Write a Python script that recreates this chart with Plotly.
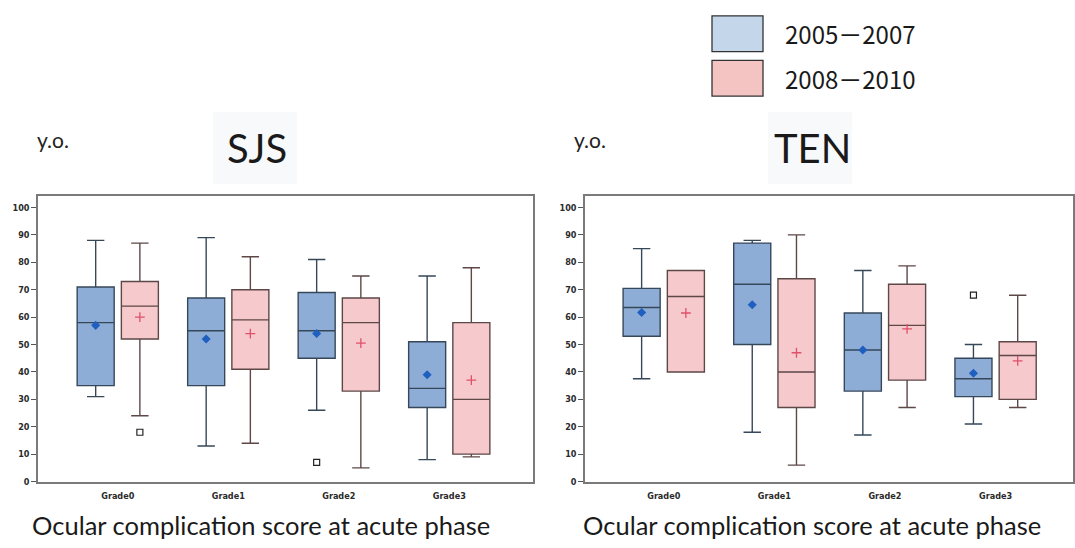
import plotly.graph_objects as go
import numpy as np

# Age (years) by ocular complication grade, two study periods
grades = ["Grade0", "Grade1", "Grade2", "Grade3"]
periods = ["2005－2007", "2008－2010"]

# SJS five-number summaries + means
sjs_a_low = [31, 13, 26, 8]
sjs_a_q1 = [35, 35, 45, 27]
sjs_a_med = [58, 55, 55, 34]
sjs_a_q3 = [71, 67, 69, 51]
sjs_a_high = [88, 89, 81, 75]
sjs_a_mean = [57, 52, 54, 39]
sjs_a_out_grade = [2]
sjs_a_out_val = [7]

sjs_b_low = [24, 14, 5, 9]
sjs_b_q1 = [52, 41, 33, 10]
sjs_b_med = [64, 59, 58, 30]
sjs_b_q3 = [73, 70, 67, 58]
sjs_b_high = [87, 82, 75, 78]
sjs_b_mean = [60, 54, 50.5, 37]
sjs_b_out_grade = [0]
sjs_b_out_val = [18]

# TEN five-number summaries + means
ten_a_low = [37.5, 18, 17, 21]
ten_a_q1 = [53, 50, 33, 31]
ten_a_med = [63.5, 72, 48, 37.5]
ten_a_q3 = [70.5, 87, 61.5, 45]
ten_a_high = [85, 88, 77, 50]
ten_a_mean = [61.7, 64.5, 48, 39.5]
ten_a_out_grade = [3]
ten_a_out_val = [68]

ten_b_low = [40, 6, 27, 27]
ten_b_q1 = [40, 27, 37, 30]
ten_b_med = [67.5, 40, 57, 46]
ten_b_q3 = [77, 74, 72, 51]
ten_b_high = [77, 90, 78.7, 68]
ten_b_mean = [61.5, 47, 55.7, 44]
ten_b_out_grade = []
ten_b_out_val = []

y_ticks = list(range(0, 101, 10))

BLUE_FILL = "#8eadd6"
BLUE_LINE = "#36475a"
BLUE_MEAN = "#1f5fbf"
PINK_FILL = "#f6c9cc"
PINK_LINE = "#5e4747"
PINK_MEAN = "#e0506a"

SHIFT = 0.2      # half the distance between paired boxes
BOX_W = 0.335
idx = np.arange(len(grades))

fig = go.Figure()


def add_panel(xa, ya, series):
    for k, (low, q1, med, q3, high, mean, og, ov) in enumerate(series):
        pos = idx + (-SHIFT if k == 0 else SHIFT)
        fill = BLUE_FILL if k == 0 else PINK_FILL
        line = BLUE_LINE if k == 0 else PINK_LINE
        fig.add_trace(go.Box(
            x=pos, q1=q1, median=med, q3=q3,
            lowerfence=low, upperfence=high,
            width=BOX_W, whiskerwidth=0.47,
            fillcolor=fill, line=dict(color=line, width=1.4),
            boxpoints=False, name=periods[k], showlegend=False,
            xaxis=xa, yaxis=ya,
        ))
        if k == 0:
            mk = dict(symbol="diamond", size=7, color=BLUE_MEAN)
        else:
            mk = dict(symbol="cross-thin", size=7,
                      line=dict(color=PINK_MEAN, width=1.3))
        fig.add_trace(go.Scatter(
            x=pos, y=mean, mode="markers", marker=mk,
            showlegend=False, xaxis=xa, yaxis=ya, hoverinfo="y",
        ))
        if len(og):
            fig.add_trace(go.Scatter(
                x=np.array(og) + (-SHIFT if k == 0 else SHIFT), y=ov,
                mode="markers",
                marker=dict(symbol="square-open", size=6,
                            line=dict(color="#222", width=1.2), color="#222"),
                showlegend=False, xaxis=xa, yaxis=ya,
            ))


add_panel("x", "y", [
    (sjs_a_low, sjs_a_q1, sjs_a_med, sjs_a_q3, sjs_a_high, sjs_a_mean,
     sjs_a_out_grade, sjs_a_out_val),
    (sjs_b_low, sjs_b_q1, sjs_b_med, sjs_b_q3, sjs_b_high, sjs_b_mean,
     sjs_b_out_grade, sjs_b_out_val),
])
add_panel("x2", "y2", [
    (ten_a_low, ten_a_q1, ten_a_med, ten_a_q3, ten_a_high, ten_a_mean,
     ten_a_out_grade, ten_a_out_val),
    (ten_b_low, ten_b_q1, ten_b_med, ten_b_q3, ten_b_high, ten_b_mean,
     ten_b_out_grade, ten_b_out_val),
])

W, H = 1075, 548
tick_font = dict(family="DejaVu Sans Condensed", size=9, color="#2a2a2a",
                 weight="bold")
frame = dict(showline=True, linecolor="#7a7a7a", linewidth=1.5, mirror=True,
             showgrid=False, zeroline=False)

ydom = [1 - 486 / H, 1 - 197.5 / H]
xaxis_common = dict(tickmode="array", tickvals=list(idx), ticktext=grades,
                    ticks="", tickfont=tick_font, ticklabelstandoff=5,
                    fixedrange=True, **frame)
yaxis_common = dict(range=[0, 104.3], tickmode="array", tickvals=y_ticks,
                    ticks="outside", ticklen=5, tickcolor="#555",
                    tickfont=tick_font, domain=ydom, **frame)

fig.update_layout(
    width=W, height=H,
    margin=dict(l=0, r=0, t=0, b=0),
    paper_bgcolor="white", plot_bgcolor="white",
    showlegend=False,
    xaxis=dict(domain=[38 / W, 533 / W], range=[-0.722, 3.758], **xaxis_common),
    yaxis=dict(anchor="x", **yaxis_common),
    xaxis2=dict(domain=[585 / W, 1073 / W], range=[-0.712, 3.70],
                anchor="y2", **xaxis_common),
    yaxis2=dict(anchor="x2", **yaxis_common),
)

txt_font = "Lato, Open Sans, sans-serif"
annotations = []
shapes = []

# Panel headers and axis captions
for cx, label, yo_x in [(257, "SJS", 53), (812, "TEN", 590)]:
    shapes.append(dict(type="rect", xref="paper", yref="paper",
                       x0=(cx - 44) / W, x1=(cx + 40) / W,
                       y0=1 - 186 / H, y1=1 - 113 / H,
                       fillcolor="rgba(205,215,225,0.15)", line=dict(width=0),
                       layer="below"))
    annotations.append(dict(text=label, x=cx / W, y=1 - 149 / H,
                            xref="paper", yref="paper", showarrow=False,
                            font=dict(family=txt_font, size=40, color="#1a1a1a"),
                            xanchor="center", yanchor="middle"))
    annotations.append(dict(text="y.o.", x=yo_x / W, y=1 - 141 / H,
                            xref="paper", yref="paper", showarrow=False,
                            font=dict(family=txt_font, size=21, color="#222"),
                            xanchor="center", yanchor="middle"))

for cx in [261, 812]:
    annotations.append(dict(text="Ocular complication score at acute phase",
                            x=cx / W, y=1 - 530 / H, xref="paper", yref="paper",
                            showarrow=False,
                            font=dict(family=txt_font, size=25.5, color="#1a1a1a"),
                            xanchor="center", yanchor="middle"))

# Legend swatches
for (y0, y1, col, lab) in [(16, 52, "#c4d6ea", periods[0]),
                           (61, 97, "#f3c4c2", periods[1])]:
    shapes.append(dict(type="rect", xref="paper", yref="paper",
                       x0=712 / W, x1=763 / W, y0=1 - y1 / H, y1=1 - y0 / H,
                       fillcolor=col, line=dict(color="#333", width=1.3)))
    annotations.append(dict(text=lab, x=783 / W, y=1 - (y0 + y1) / 2 / H,
                            xref="paper", yref="paper", showarrow=False,
                            font=dict(family="Noto Sans CJK JP, Noto Sans", size=24,
                                      color="#1a1a1a"),
                            xanchor="left", yanchor="middle"))

fig.update_layout(annotations=annotations, shapes=shapes)
fig.write_html("out.html")
